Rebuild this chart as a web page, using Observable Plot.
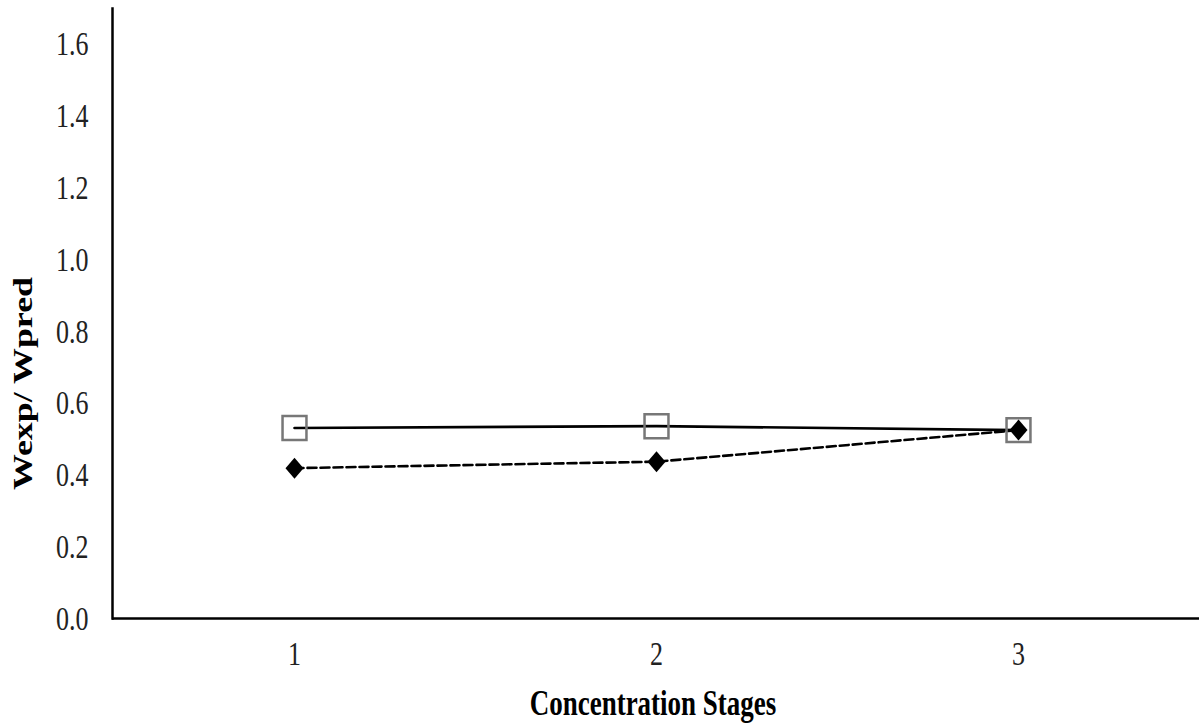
<!DOCTYPE html>
<html>
<head>
<meta charset="utf-8">
<script src="https://cdn.jsdelivr.net/npm/d3@7"></script>
<script src="https://cdn.jsdelivr.net/npm/@observablehq/plot@0.6"></script>
<style>
  html, body { margin: 0; padding: 0; background: white; }
</style>
</head>
<body>
<div id="chart"></div>
<script>
const stages = ["1", "2", "3"];
const squareValues = [0.531, 0.536, 0.525];
const diamondValues = [0.419, 0.437, 0.525];
const yTicks = [0, 0.2, 0.4, 0.6, 0.8, 1.0, 1.2, 1.4, 1.6];
const xTitle = "Concentration Stages";
const yTitle = "Wexp/ Wpred";

const squares = stages.map((s, i) => ({stage: s, value: squareValues[i]}));
const diamonds = stages.map((s, i) => ({stage: s, value: diamondValues[i]}));

const diamondSymbol = {
  draw(ctx) {
    const w = 9, h = 10.5;
    ctx.moveTo(0, -h); ctx.lineTo(w, 0); ctx.lineTo(0, h); ctx.lineTo(-w, 0); ctx.closePath();
  }
};

const chart = Plot.plot({
  width: 1199,
  height: 726,
  marginLeft: 112,
  marginRight: 0,
  marginTop: 8,
  marginBottom: 108,
  style: {fontFamily: "'Liberation Serif', 'Times New Roman', serif", background: "white", color: "#222"},
  x: {type: "point", domain: stages, padding: 0.5},
  y: {domain: [0, 1.7]},
  marks: [
    Plot.axisY({ticks: yTicks, tickFormat: d => d.toFixed(1), tickSize: 0, tickPadding: 24, fontSize: 26, label: null}),
    Plot.axisX({tickSize: 0, tickPadding: 22, fontSize: 26, label: null}),
    Plot.frame({anchor: "left", strokeWidth: 2.5, stroke: "black"}),
    Plot.ruleY([0], {strokeWidth: 2.5, stroke: "black"}),
    Plot.line(diamonds, {x: "stage", y: "value", stroke: "black", strokeWidth: 2.6, strokeDasharray: "9,4"}),
    Plot.line(squares, {x: "stage", y: "value", stroke: "black", strokeWidth: 2.6}),
    Plot.dot(squares, {x: "stage", y: "value", symbol: "square", r: 13.5, stroke: "#777", strokeWidth: 2.5, fill: "none"}),
    Plot.dot(diamonds, {x: "stage", y: "value", symbol: diamondSymbol, fill: "black", stroke: "none"}),
    Plot.text([xTitle], {frameAnchor: "bottom", text: d => d, dx: -3, dy: 96, fontSize: 27, fontWeight: "bold", fill: "black"}),
    Plot.text([yTitle], {frameAnchor: "left", text: d => d, textAnchor: "middle", rotate: -90, dx: -89, dy: 70, fontSize: 27, fontWeight: "bold", fill: "black"})
  ]
});

document.getElementById("chart").appendChild(chart);

// emulate the vertical stretch of the reference's typography
const S = 1.33;
d3.select(chart).selectAll("text").each(function() {
  const el = d3.select(this);
  let t = el.attr("transform");
  if (!t) {
    const x = +el.attr("x") || 0, y = +el.attr("y") || 0;
    el.attr("transform", `translate(${x},${y}) scale(1,${S}) translate(${-x},${-y})`);
  } else if (/rotate/.test(t)) {
    el.attr("transform", t + ` scale(${S},1)`);
  } else {
    el.attr("transform", t + ` scale(1,${S})`);
  }
});
</script>
</body>
</html>
